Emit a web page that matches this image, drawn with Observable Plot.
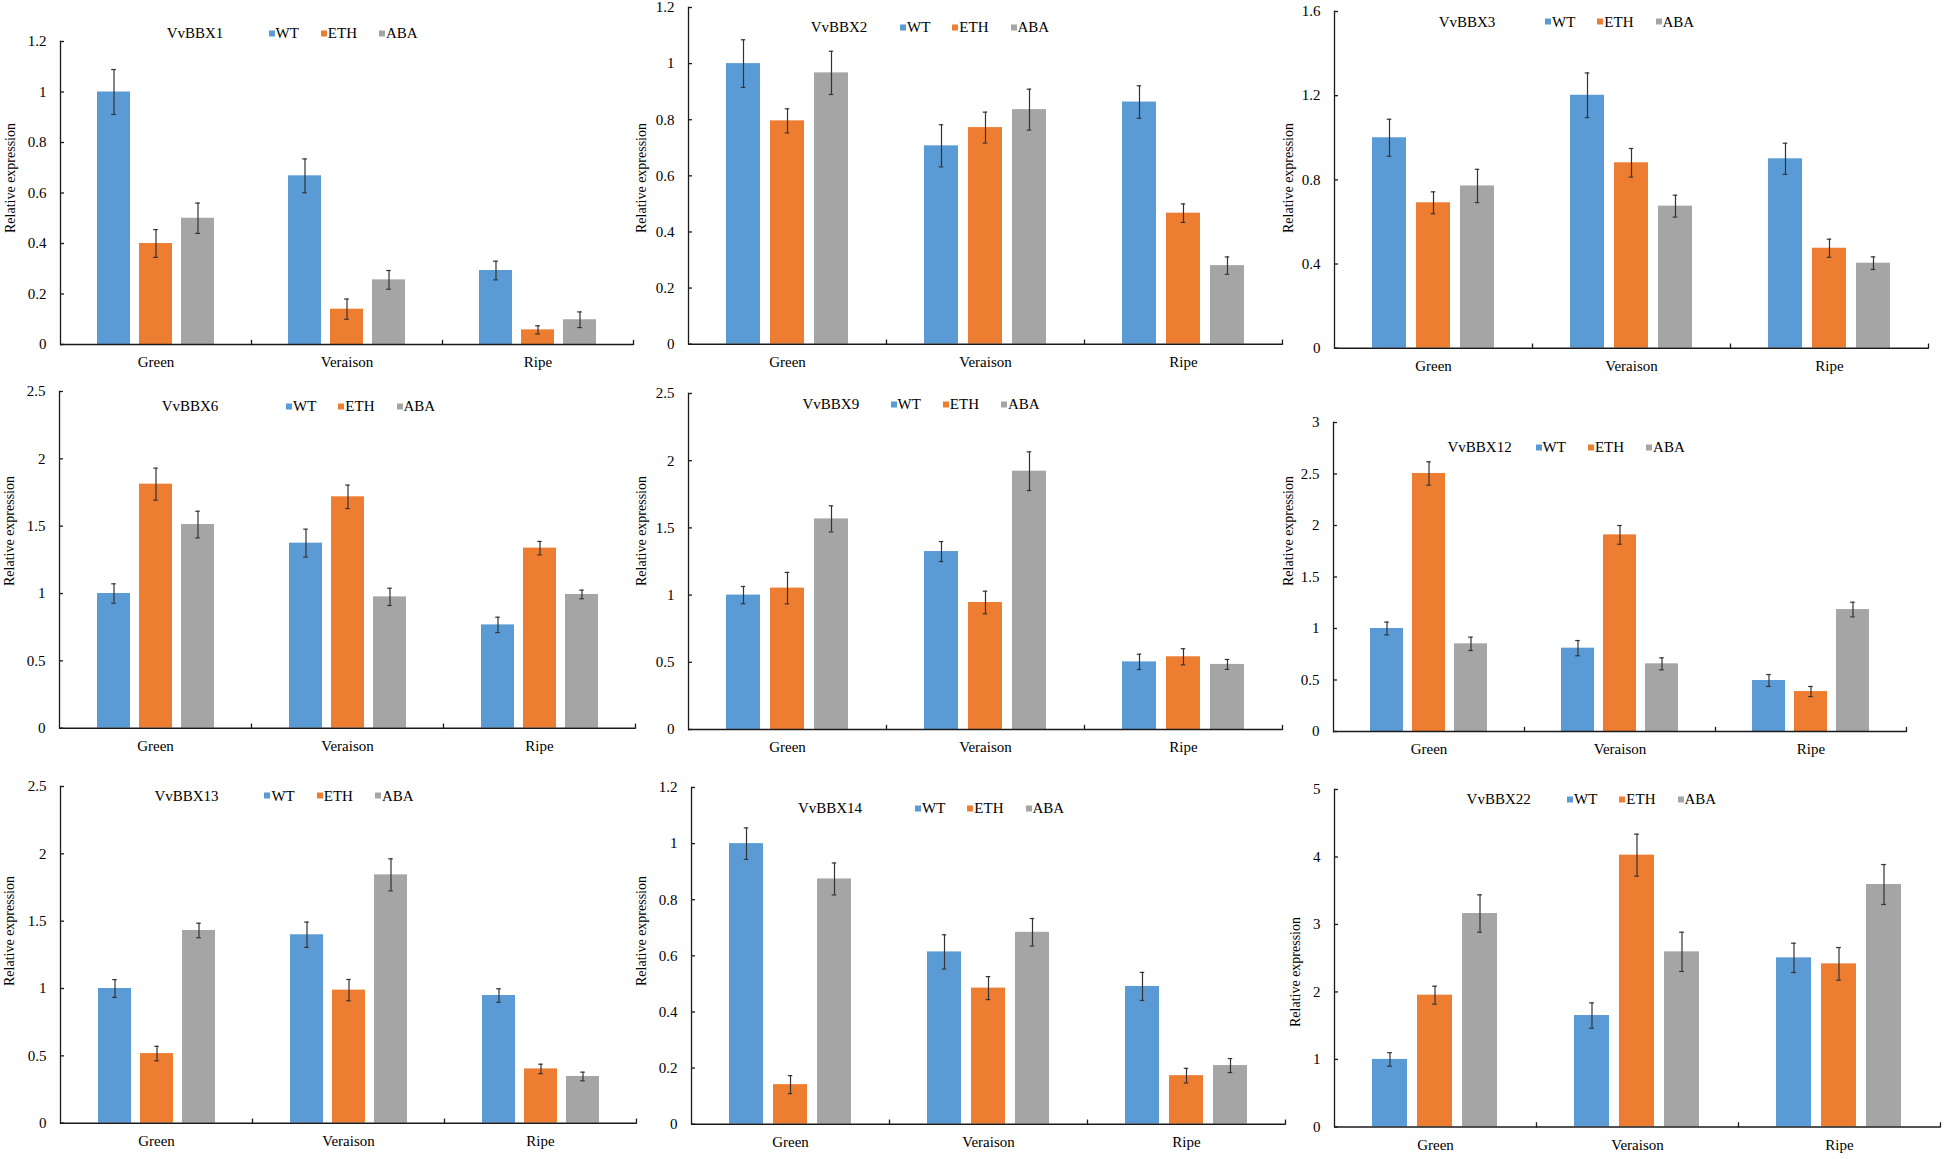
<!DOCTYPE html>
<html>
<head>
<meta charset="utf-8">
<script src="https://cdn.jsdelivr.net/npm/d3@7"></script>
<script src="https://cdn.jsdelivr.net/npm/@observablehq/plot@0.6"></script>
<style>
html,body{margin:0;padding:0;background:#fff;overflow:hidden;}
#root{position:relative;width:1946px;height:1159px;font-family:"Liberation Serif","Times New Roman",serif;color:#000;}
.panel{position:absolute;}
.title{position:absolute;font-size:15px;transform:translate(-50%,-50%);white-space:nowrap;line-height:1;}
.legend{position:absolute;display:flex;gap:22px;font-size:15px;transform:translateY(-50%);white-space:nowrap;align-items:center;line-height:1;}
.legend .item{display:flex;align-items:center;}
.legend .sw{display:inline-block;width:6px;height:6px;margin-right:1px;}
.ylab{position:absolute;font-size:14px;transform:translate(-50%,-50%) rotate(-90deg);white-space:nowrap;line-height:1;}
</style>
</head>
<body>
<div id="root"></div>
<script>
// ---------- data ----------
const genes = ["VvBBX1", "VvBBX2", "VvBBX3", "VvBBX6", "VvBBX9", "VvBBX12", "VvBBX13", "VvBBX14", "VvBBX22"];
const stages = ["Green", "Veraison", "Ripe"];
const treatments = ["WT", "ETH", "ABA"];
const yLabel = "Relative expression";

// means, order: Green WT/ETH/ABA, Veraison WT/ETH/ABA, Ripe WT/ETH/ABA
const means = [
  [1.00, 0.40, 0.50, 0.668, 0.14, 0.256, 0.293, 0.058, 0.098],
  [1.00, 0.796, 0.967, 0.707, 0.772, 0.836, 0.863, 0.467, 0.280],
  [1.00, 0.691, 0.771, 1.202, 0.881, 0.675, 0.900, 0.475, 0.404],
  [1.00, 1.812, 1.512, 1.374, 1.718, 0.975, 0.767, 1.337, 0.993],
  [1.00, 1.052, 1.567, 1.324, 0.945, 1.922, 0.503, 0.541, 0.484],
  [1.00, 2.505, 0.851, 0.809, 1.909, 0.657, 0.495, 0.388, 1.184],
  [1.00, 0.517, 1.431, 1.399, 0.988, 1.844, 0.948, 0.403, 0.347],
  [1.00, 0.141, 0.874, 0.614, 0.485, 0.684, 0.491, 0.173, 0.209],
  [1.00, 1.952, 3.162, 1.650, 4.027, 2.594, 2.505, 2.416, 3.592]
];
const errors = [
  [0.089, 0.055, 0.060, 0.067, 0.040, 0.037, 0.037, 0.016, 0.031],
  [0.085, 0.043, 0.077, 0.075, 0.055, 0.073, 0.058, 0.033, 0.031],
  [0.088, 0.052, 0.079, 0.106, 0.068, 0.052, 0.074, 0.043, 0.030],
  [0.072, 0.119, 0.099, 0.104, 0.087, 0.064, 0.057, 0.050, 0.032],
  [0.064, 0.117, 0.097, 0.074, 0.084, 0.144, 0.057, 0.060, 0.037],
  [0.062, 0.113, 0.065, 0.074, 0.091, 0.058, 0.058, 0.049, 0.071],
  [0.066, 0.054, 0.054, 0.094, 0.079, 0.119, 0.050, 0.035, 0.032],
  [0.056, 0.032, 0.057, 0.061, 0.041, 0.049, 0.050, 0.026, 0.025],
  [0.100, 0.133, 0.277, 0.188, 0.311, 0.291, 0.217, 0.242, 0.296]
];
const yMax = [1.2, 1.2, 1.6, 2.5, 2.5, 3, 2.5, 1.2, 5];
const yTicks = [
  [0, 0.2, 0.4, 0.6, 0.8, 1, 1.2],
  [0, 0.2, 0.4, 0.6, 0.8, 1, 1.2],
  [0, 0.4, 0.8, 1.2, 1.6],
  [0, 0.5, 1, 1.5, 2, 2.5],
  [0, 0.5, 1, 1.5, 2, 2.5],
  [0, 0.5, 1, 1.5, 2, 2.5, 3],
  [0, 0.5, 1, 1.5, 2, 2.5],
  [0, 0.2, 0.4, 0.6, 0.8, 1, 1.2],
  [0, 1, 2, 3, 4, 5]
];

// ---------- styles / layout ----------
const colors = ["#5B9BD5", "#ED7D31", "#A5A5A5"];
// axisX, rightX, topY, baseY, title (cx, cy), legend left, ylabel (cx, cy)
const layout = [
  {ax: 59.5, rx: 633, ty: 41, by: 344, tx: 195, tyy: 33, lx: 268.5, ylx: 10.5, yly: 178},
  {ax: 686.8, rx: 1282, ty: 7.3, by: 344, tx: 839, tyy: 27, lx: 900, ylx: 642, yly: 178},
  {ax: 1334.4, rx: 1929, ty: 11, by: 347.7, tx: 1467, tyy: 21.7, lx: 1545, ylx: 1288.5, yly: 178},
  {ax: 58, rx: 635.5, ty: 391, by: 727.7, tx: 190, tyy: 406, lx: 286, ylx: 10, yly: 530.7},
  {ax: 686.8, rx: 1282, ty: 393.3, by: 729.3, tx: 830.8, tyy: 404, lx: 890.5, ylx: 642, yly: 530.7},
  {ax: 1331.8, rx: 1907.7, ty: 421.7, by: 730.7, tx: 1479.6, tyy: 447.3, lx: 1535.6, ylx: 1288.5, yly: 530.7},
  {ax: 60, rx: 636, ty: 786, by: 1122.7, tx: 186.5, tyy: 795.7, lx: 264.4, ylx: 10, yly: 930.7},
  {ax: 690, rx: 1285, ty: 787.3, by: 1124, tx: 830, tyy: 808.3, lx: 915, ylx: 642, yly: 930.7},
  {ax: 1334.4, rx: 1941.3, ty: 789.3, by: 1126.7, tx: 1498.7, tyy: 799.3, lx: 1567, ylx: 1296, yly: 971.7}
];
const ML = 40, MT = 10, MR = 4, MB = 30;
const PI = 0.22, PO = 0.85;
const axisColor = "#1a1a1a";
const errColor = "#333333";

const root = document.getElementById("root");

genes.forEach((gene, i) => {
  const L = layout[i];
  const data = [];
  stages.forEach((s, si) => treatments.forEach((t, ti) => {
    const k = si * 3 + ti;
    data.push({stage: s, treatment: t, mean: means[i][k], err: errors[i][k]});
  }));
  const innerW = L.rx - L.ax;
  const innerH = L.by - L.ty;
  const bandW = innerW / 3;
  const step = bandW / (3 - PI + 2 * PO);
  const bw = step * (1 - PI);
  const capInset = (bw - 5) / 2;

  const svg = Plot.plot({
    width: innerW + ML + MR,
    height: innerH + MT + MB,
    marginLeft: ML, marginTop: MT, marginRight: MR, marginBottom: MB,
    style: {fontFamily: "'Liberation Serif', 'Times New Roman', serif", fontSize: "15px", background: "transparent", color: "#000", overflow: "visible"},
    fx: {domain: stages, padding: 0, label: null},
    x: {domain: treatments, paddingInner: PI, paddingOuter: PO, axis: null},
    y: {domain: [0, yMax[i]], label: null},
    color: {domain: treatments, range: colors},
    marks: [
      Plot.barY(data, {fx: "stage", x: "treatment", y: "mean", fill: "treatment"}),
      Plot.ruleX(data, {fx: "stage", x: "treatment", y1: d => d.mean - d.err, y2: d => d.mean + d.err, stroke: errColor, strokeWidth: 1.2}),
      Plot.tickY(data, {fx: "stage", x: "treatment", y: d => d.mean + d.err, insetLeft: capInset, insetRight: capInset, stroke: errColor, strokeWidth: 1.2}),
      Plot.tickY(data, {fx: "stage", x: "treatment", y: d => d.mean - d.err, insetLeft: capInset, insetRight: capInset, stroke: errColor, strokeWidth: 1.2}),
      Plot.ruleY([0], {stroke: axisColor, strokeWidth: 1.5}),
      Plot.frame({anchor: "left", facetAnchor: "left", stroke: axisColor, strokeWidth: 1.3}),
      Plot.frame({anchor: "right", insetTop: innerH - 4, stroke: axisColor, strokeWidth: 1.3}),
      Plot.axisY({ticks: yTicks[i], tickSize: 0, tickPadding: 14, tickFormat: d3.format("~g"), label: null}),
      Plot.axisY({ticks: yTicks[i], tickSize: 4, dx: 4, tickFormat: () => "", label: null, stroke: axisColor, strokeWidth: 1.3}),
      Plot.axisFx({anchor: "bottom", tickSize: 0, tickPadding: 12, label: null})
    ]
  });
  const wrap = document.createElement("div");
  wrap.className = "panel";
  wrap.style.left = (L.ax - ML) + "px";
  wrap.style.top = (L.ty - MT) + "px";
  wrap.appendChild(svg);
  root.appendChild(wrap);

  const title = document.createElement("div");
  title.className = "title";
  title.style.left = L.tx + "px";
  title.style.top = L.tyy + "px";
  title.textContent = gene;
  root.appendChild(title);

  const legend = document.createElement("div");
  legend.className = "legend";
  legend.style.left = L.lx + "px";
  legend.style.top = L.tyy + "px";
  treatments.forEach((t, ti) => {
    const item = document.createElement("div");
    item.className = "item";
    const sw = document.createElement("span");
    sw.className = "sw";
    sw.style.background = colors[ti];
    item.appendChild(sw);
    const tx = document.createElement("span");
    tx.textContent = t;
    item.appendChild(tx);
    legend.appendChild(item);
  });
  root.appendChild(legend);

  const yl = document.createElement("div");
  yl.className = "ylab";
  yl.style.left = L.ylx + "px";
  yl.style.top = L.yly + "px";
  yl.textContent = yLabel;
  root.appendChild(yl);
});
</script>
</body>
</html>
